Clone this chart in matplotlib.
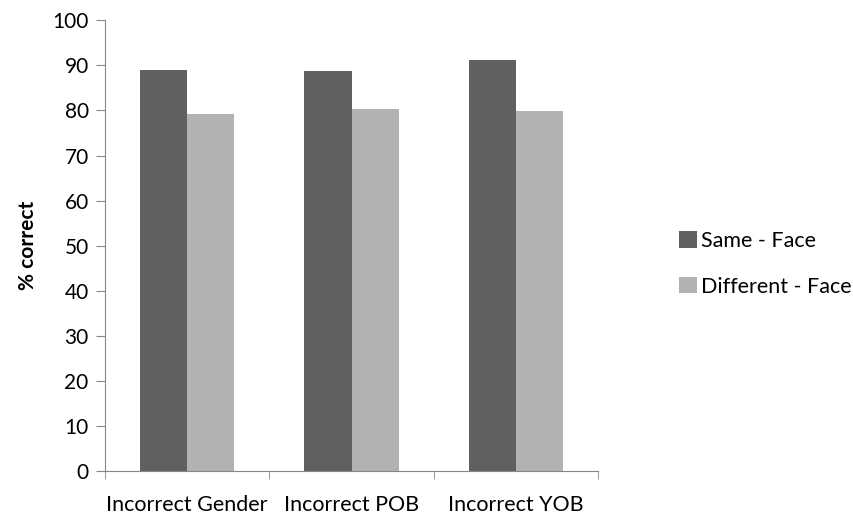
import numpy as np
import matplotlib.pyplot as plt

categories = ["Incorrect Gender", "Incorrect POB", "Incorrect YOB"]
same_face = [89.0, 88.7, 91.3]
different_face = [79.2, 80.4, 79.9]
series_names = ["Same - Face", "Different - Face"]

plt.rcParams['font.family'] = ['Lato', 'DejaVu Sans']

fig = plt.figure(figsize=(8.54, 5.18), dpi=100)
ax = fig.add_axes([0.1226, 0.0907, 0.578, 0.8701])

x = np.arange(len(categories))
w = 0.286
ax.bar(x - w / 2, same_face, w, color='#606060', label=series_names[0])
ax.bar(x + w / 2, different_face, w, color='#b2b2b2', label=series_names[1])

ax.set_xlim(-0.5, len(categories) - 0.5)
ax.set_ylim(0, 100)
ax.set_yticks(range(0, 101, 10))
ax.tick_params(axis='y', labelsize=15, length=6.5, color='#868686', pad=5)

# category labels in the middle, ticks on the boundaries
ax.set_xticks(x)
ax.set_xticklabels(categories, fontsize=15.5)
ax.tick_params(axis='x', length=0, pad=17)
ax.set_xticks(np.arange(-0.5, len(categories)), minor=True)
ax.tick_params(axis='x', which='minor', length=6, color='#868686')

for side in ['top', 'right']:
    ax.spines[side].set_visible(False)
for side in ['left', 'bottom']:
    ax.spines[side].set_color('#868686')

ax.set_ylabel("% correct", fontsize=15, fontweight='bold', labelpad=10)

ax.legend(loc='center left', bbox_to_anchor=(1.125, 0.46), frameon=False,
          fontsize=15.5, handlelength=0.8, handleheight=0.8, handletextpad=0.2,
          labelspacing=1.2)

fig.savefig('out.png', dpi=100)
